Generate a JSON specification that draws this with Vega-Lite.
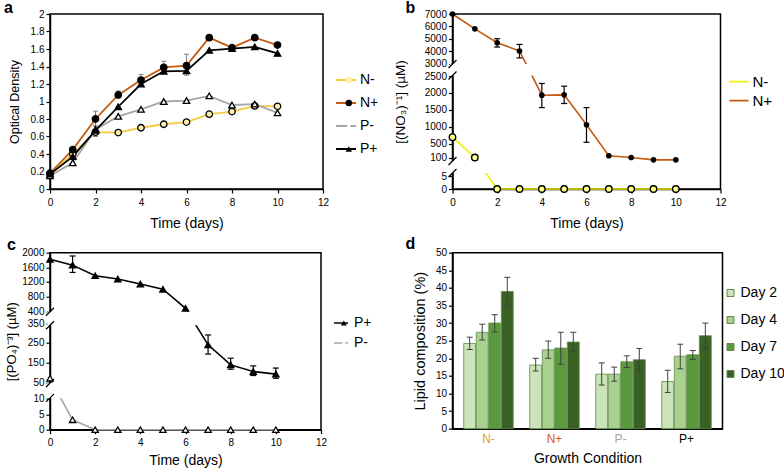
{
  "$schema": "https://vega.github.io/schema/vega-lite/v6.json",
  "background": "white",
  "padding": {"left": 3, "top": -1, "right": 0, "bottom": 0},
  "config": {
    "font": "Liberation Sans",
    "view": {"stroke": "#000", "strokeWidth": 1.5},
    "axis": {"grid": false, "domainColor": "#000", "domainWidth": 1.5, "tickColor": "#000", "tickWidth": 1.2, "tickSize": 4, "tickCount": 60, "labelColor": "#000", "labelFontSize": 10, "labelPadding": 2, "titleColor": "#000", "titleFontWeight": "normal", "labelOverlap": false, "labelFlush": false},
    "legend": {"labelColor": "#000", "padding": 0, "labelFont": "Liberation Sans"},
    "title": {"anchor": "start", "frame": "group", "fontSize": 16, "fontWeight": "bold", "color": "#000"}
  },
  "datasets": {
    "od": [
      {"day": 0, "series": "N-", "od": 0.17}, {"day": 1, "series": "N-", "od": 0.40}, {"day": 2, "series": "N-", "od": 0.65}, {"day": 3, "series": "N-", "od": 0.645}, {"day": 4, "series": "N-", "od": 0.70}, {"day": 5, "series": "N-", "od": 0.74}, {"day": 6, "series": "N-", "od": 0.765}, {"day": 7, "series": "N-", "od": 0.855}, {"day": 8, "series": "N-", "od": 0.885}, {"day": 9, "series": "N-", "od": 0.95}, {"day": 10, "series": "N-", "od": 0.945},
      {"day": 0, "series": "N+", "od": 0.18}, {"day": 1, "series": "N+", "od": 0.45}, {"day": 2, "series": "N+", "od": 0.80}, {"day": 3, "series": "N+", "od": 1.075}, {"day": 4, "series": "N+", "od": 1.245}, {"day": 5, "series": "N+", "od": 1.39}, {"day": 6, "series": "N+", "od": 1.41}, {"day": 7, "series": "N+", "od": 1.73}, {"day": 8, "series": "N+", "od": 1.615}, {"day": 9, "series": "N+", "od": 1.73}, {"day": 10, "series": "N+", "od": 1.645},
      {"day": 0, "series": "P-", "od": 0.15}, {"day": 1, "series": "P-", "od": 0.30}, {"day": 2, "series": "P-", "od": 0.68}, {"day": 3, "series": "P-", "od": 0.83}, {"day": 4, "series": "P-", "od": 0.91}, {"day": 5, "series": "P-", "od": 1.0}, {"day": 6, "series": "P-", "od": 1.01}, {"day": 7, "series": "P-", "od": 1.065}, {"day": 8, "series": "P-", "od": 0.96}, {"day": 9, "series": "P-", "od": 0.97}, {"day": 10, "series": "P-", "od": 0.87},
      {"day": 0, "series": "P+", "od": 0.17}, {"day": 1, "series": "P+", "od": 0.37}, {"day": 2, "series": "P+", "od": 0.67}, {"day": 3, "series": "P+", "od": 0.94}, {"day": 4, "series": "P+", "od": 1.2}, {"day": 5, "series": "P+", "od": 1.345}, {"day": 6, "series": "P+", "od": 1.35}, {"day": 7, "series": "P+", "od": 1.585}, {"day": 8, "series": "P+", "od": 1.605}, {"day": 9, "series": "P+", "od": 1.625}, {"day": 10, "series": "P+", "od": 1.55}
    ],
    "od_err": [
      {"day": 2, "series": "N+", "lo": 0.72, "hi": 0.89}, {"day": 3, "series": "N+", "lo": 1.04, "hi": 1.12}, {"day": 4, "series": "N+", "lo": 1.21, "hi": 1.31}, {"day": 5, "series": "N+", "lo": 1.35, "hi": 1.46}, {"day": 6, "series": "N+", "lo": 1.30, "hi": 1.54}, {"day": 2, "series": "P+", "lo": 0.60, "hi": 0.72}
    ],
    "no3": [
      {"day": 0, "series": "N-", "c": 700}, {"day": 1, "series": "N-", "c": 100}, {"day": 2, "series": "N-", "c": 0}, {"day": 3, "series": "N-", "c": 0}, {"day": 4, "series": "N-", "c": 0}, {"day": 5, "series": "N-", "c": 0}, {"day": 6, "series": "N-", "c": 0}, {"day": 7, "series": "N-", "c": 0}, {"day": 8, "series": "N-", "c": 0}, {"day": 9, "series": "N-", "c": 0}, {"day": 10, "series": "N-", "c": 0},
      {"day": 0, "series": "N+", "c": 7000}, {"day": 1, "series": "N+", "c": 5800}, {"day": 2, "series": "N+", "c": 4680}, {"day": 3, "series": "N+", "c": 4010}, {"day": 4, "series": "N+", "c": 1935}, {"day": 5, "series": "N+", "c": 1945}, {"day": 6, "series": "N+", "c": 1065}, {"day": 7, "series": "N+", "c": 150}, {"day": 8, "series": "N+", "c": 100}, {"day": 9, "series": "N+", "c": 88}, {"day": 10, "series": "N+", "c": 88}
    ],
    "no3_err": [
      {"day": 2, "lo": 4330, "hi": 5000}, {"day": 3, "lo": 3450, "hi": 4540}, {"day": 4, "lo": 1570, "hi": 2280}, {"day": 5, "lo": 1690, "hi": 2200}, {"day": 6, "lo": 548, "hi": 1570}
    ],
    "no3_breaks": [{"lo": 2520, "hi": 2980}, {"lo": 20, "hi": 82}],
    "po4": [
      {"day": 0, "series": "P+", "c": 1820}, {"day": 1, "series": "P+", "c": 1660}, {"day": 2, "series": "P+", "c": 1370}, {"day": 3, "series": "P+", "c": 1280}, {"day": 4, "series": "P+", "c": 1143}, {"day": 5, "series": "P+", "c": 1000}, {"day": 6, "series": "P+", "c": 480}, {"day": 7, "series": "P+", "c": 240}, {"day": 8, "series": "P+", "c": 138}, {"day": 9, "series": "P+", "c": 104}, {"day": 10, "series": "P+", "c": 91},
      {"day": 0, "series": "P-", "c": 70}, {"day": 1, "series": "P-", "c": 3.2}, {"day": 2, "series": "P-", "c": 0}, {"day": 3, "series": "P-", "c": 0}, {"day": 4, "series": "P-", "c": 0}, {"day": 5, "series": "P-", "c": 0}, {"day": 6, "series": "P-", "c": 0}, {"day": 7, "series": "P-", "c": 0}, {"day": 8, "series": "P-", "c": 0}, {"day": 9, "series": "P-", "c": 0}, {"day": 10, "series": "P-", "c": 0}
    ],
    "po4_err": [
      {"day": 1, "lo": 1460, "hi": 1910}, {"day": 7, "lo": 193, "hi": 290}, {"day": 8, "lo": 116, "hi": 172}, {"day": 9, "lo": 84, "hi": 133}, {"day": 10, "lo": 70, "hi": 122}
    ],
    "po4_breaks": [{"lo": 340, "hi": 398}, {"lo": 12, "hi": 48}],
    "lipid": [
      {"cond": "N-", "day": "Day 2", "v": 24.2, "lo": 22.5, "hi": 26}, {"cond": "N-", "day": "Day 4", "v": 27.4, "lo": 25.2, "hi": 29.7}, {"cond": "N-", "day": "Day 7", "v": 30, "lo": 27.5, "hi": 32.4}, {"cond": "N-", "day": "Day 10", "v": 39, "lo": 35, "hi": 43},
      {"cond": "N+", "day": "Day 2", "v": 18.1, "lo": 16.4, "hi": 20}, {"cond": "N+", "day": "Day 4", "v": 22.4, "lo": 20, "hi": 24.9}, {"cond": "N+", "day": "Day 7", "v": 22.9, "lo": 18.3, "hi": 27.4}, {"cond": "N+", "day": "Day 10", "v": 24.6, "lo": 22, "hi": 27.4},
      {"cond": "P-", "day": "Day 2", "v": 15.5, "lo": 12.4, "hi": 18.7}, {"cond": "P-", "day": "Day 4", "v": 15.5, "lo": 13.5, "hi": 17.5}, {"cond": "P-", "day": "Day 7", "v": 19, "lo": 17.4, "hi": 20.7}, {"cond": "P-", "day": "Day 10", "v": 19.6, "lo": 16.4, "hi": 22.8},
      {"cond": "P+", "day": "Day 2", "v": 13.4, "lo": 10.3, "hi": 16.6}, {"cond": "P+", "day": "Day 4", "v": 20.6, "lo": 17, "hi": 24}, {"cond": "P+", "day": "Day 7", "v": 21, "lo": 19.7, "hi": 22.2}, {"cond": "P+", "day": "Day 10", "v": 26.4, "lo": 22.8, "hi": 30}
    ]
  },
  "columns": 2,
  "align": "none",
  "bounds": "flush",
  "spacing": {"row": 63.7, "column": 129.5},
  "resolve": {
    "scale": {"fill": "independent", "stroke": "independent", "shape": "independent", "size": "independent", "color": "independent"},
    "legend": {"fill": "independent", "stroke": "independent", "shape": "independent", "size": "independent", "color": "independent"}
  },
  "concat": [
    {
      "width": 273, "height": 175,
      "title": {"text": "a", "dx": -46, "offset": -7},
      "layer": [
        {
          "data": {"name": "od_err"},
          "mark": {"type": "rule", "color": "#7f7f7f", "strokeWidth": 1},
          "encoding": {
            "x": {"field": "day", "type": "quantitative", "title": "Time (days)", "scale": {"domain": [0, 12], "nice": false}, "axis": {"values": [0, 2, 4, 6, 8, 10, 12], "format": "d", "tickCount": 60, "labelOverlap": false, "titleFontSize": 14, "titlePadding": 9, "labelPadding": 4}},
            "y": {"field": "lo", "type": "quantitative", "title": "Optical Density", "scale": {"domain": [0, 2], "nice": false}, "axis": {"values": [0, 0.2, 0.4, 0.6, 0.8, 1, 1.2, 1.4, 1.6, 1.8, 2], "tickCount": 60, "labelOverlap": false, "format": "~g", "titleFontSize": 12.5, "titlePadding": 9}},
            "y2": {"field": "hi"}
          }
        },
        {
          "data": {"name": "od_err"},
          "mark": {"type": "tick", "orient": "horizontal", "color": "#7f7f7f", "size": 5, "thickness": 1, "opacity": 1},
          "encoding": {"x": {"field": "day", "type": "quantitative", "title": "Time (days)"}, "y": {"field": "hi", "type": "quantitative", "title": "Optical Density"}}
        },
        {
          "data": {"name": "od_err"},
          "mark": {"type": "tick", "orient": "horizontal", "color": "#7f7f7f", "size": 5, "thickness": 1, "opacity": 1},
          "encoding": {"x": {"field": "day", "type": "quantitative", "title": "Time (days)"}, "y": {"field": "lo", "type": "quantitative", "title": "Optical Density"}}
        },
        {
          "data": {"name": "od"},
          "mark": {"type": "line", "strokeWidth": 1.8},
          "encoding": {
            "x": {"field": "day", "type": "quantitative", "title": "Time (days)"},
            "y": {"field": "od", "type": "quantitative", "title": "Optical Density"},
            "stroke": {"field": "series", "type": "nominal", "scale": {"domain": ["N-", "N+", "P-", "P+"], "range": ["#f5cb45", "#c55a11", "#a6a6a6", "#000000"]},
              "legend": {"orient": "none", "legendX": 285, "legendY": 54.5, "title": null, "symbolType": "stroke", "symbolSize": 400, "symbolStrokeWidth": 1.8, "labelFontSize": 14, "labelOffset": 3, "clipHeight": 23, "rowPadding": 0}}
          }
        },
        {
          "data": {"name": "od"},
          "mark": {"type": "point", "filled": true, "stroke": "#000", "strokeWidth": 1.3, "size": 42, "opacity": 1},
          "encoding": {
            "x": {"field": "day", "type": "quantitative", "title": "Time (days)"},
            "y": {"field": "od", "type": "quantitative", "title": "Optical Density"},
            "shape": {"field": "series", "type": "nominal", "scale": {"domain": ["N+", "N-", "P+", "P-"], "range": ["circle", "circle", "triangle-up", "triangle-up"]},
              "legend": {"values": ["N-", "N+", "P-", "P+"], "orient": "none", "legendX": 291.8, "legendY": 54.5, "title": null, "symbolSize": 42, "symbolStrokeColor": "#000", "symbolStrokeWidth": 1.3, "labelFontSize": 14, "labelOpacity": 0, "clipHeight": 23, "rowPadding": 0}},
            "fill": {"field": "series", "type": "nominal", "scale": {"domain": ["N+", "N-", "P+", "P-"], "range": ["#000000", "#fff1b0", "#000000", "#ffffff"]},
              "legend": {"values": ["N-", "N+", "P-", "P+"], "orient": "none", "legendX": 291.8, "legendY": 54.5, "title": null, "symbolSize": 42, "symbolStrokeColor": "#000", "symbolStrokeWidth": 1.3, "labelFontSize": 14, "labelOpacity": 0, "clipHeight": 23, "rowPadding": 0}}
          }
        }
      ]
    },
    {
      "width": 268, "height": 175,
      "title": {"text": "b", "dx": -47, "offset": -7},
      "layer": [
        {
          "data": {"name": "no3_err"},
          "mark": {"type": "rule", "color": "#000", "strokeWidth": 1.2},
          "encoding": {
            "x": {"field": "day", "type": "quantitative", "title": "Time (days)", "scale": {"domain": [0, 12], "nice": false}, "axis": {"values": [0, 2, 4, 6, 8, 10, 12], "format": "d", "tickCount": 60, "labelOverlap": false, "titleFontSize": 14, "titlePadding": 9, "labelPadding": 4}},
            "y": {"field": "lo", "type": "quantitative", "title": "[(NO₃)⁻¹] (µM)", "scale": {"domain": [0, 5, 100, 2500, 3000, 7000], "range": [175, 162, 143.5, 62, 49.5, 0], "nice": false, "zero": false}, "axis": {"values": [0, 5, 100, 500, 1000, 1500, 2000, 2500, 3000, 4000, 5000, 6000, 7000], "tickCount": 60, "labelOverlap": false, "format": "d", "titleFontSize": 13.5, "titlePadding": 17}},
            "y2": {"field": "hi"}
          }
        },
        {
          "data": {"name": "no3_err"},
          "mark": {"type": "tick", "orient": "horizontal", "color": "#000", "size": 6, "thickness": 1.2, "opacity": 1},
          "encoding": {"x": {"field": "day", "type": "quantitative", "title": "Time (days)"}, "y": {"field": "hi", "type": "quantitative", "title": "[(NO₃)⁻¹] (µM)"}}
        },
        {
          "data": {"name": "no3_err"},
          "mark": {"type": "tick", "orient": "horizontal", "color": "#000", "size": 6, "thickness": 1.2, "opacity": 1},
          "encoding": {"x": {"field": "day", "type": "quantitative", "title": "Time (days)"}, "y": {"field": "lo", "type": "quantitative", "title": "[(NO₃)⁻¹] (µM)"}}
        },
        {
          "data": {"name": "no3"},
          "mark": {"type": "line", "strokeWidth": 1.6},
          "encoding": {
            "x": {"field": "day", "type": "quantitative", "title": "Time (days)"},
            "y": {"field": "c", "type": "quantitative", "title": "[(NO₃)⁻¹] (µM)"},
            "stroke": {"field": "series", "type": "nominal", "scale": {"domain": ["N-", "N+"], "range": ["#f0f000", "#c55a11"]},
              "legend": {"orient": "none", "legendX": 276, "legendY": 58.5, "title": null, "symbolType": "stroke", "symbolSize": 361, "symbolStrokeWidth": 1.6, "labelFontSize": 15, "labelOffset": 3, "clipHeight": 18.3, "rowPadding": 0}}
          }
        },
        {
          "data": {"name": "no3_breaks"},
          "mark": {"type": "rect", "fill": "white"},
          "encoding": {
            "x": {"datum": -0.12, "type": "quantitative"},
            "x2": {"datum": 11.88},
            "y": {"field": "hi", "type": "quantitative", "title": "[(NO₃)⁻¹] (µM)"},
            "y2": {"field": "lo"}
          }
        },
        {
          "data": {"name": "no3_breaks"},
          "mark": {"type": "rule", "color": "#000", "strokeWidth": 1.3, "xOffset": -4, "x2Offset": 4, "yOffset": 4, "y2Offset": -4},
          "encoding": {"x": {"datum": 0, "type": "quantitative"}, "x2": {"datum": 0}, "y": {"field": "hi", "type": "quantitative", "title": "[(NO₃)⁻¹] (µM)"}, "y2": {"field": "hi"}}
        },
        {
          "data": {"name": "no3_breaks"},
          "mark": {"type": "rule", "color": "#000", "strokeWidth": 1.3, "xOffset": -4, "x2Offset": 4, "yOffset": 4, "y2Offset": -4},
          "encoding": {"x": {"datum": 0, "type": "quantitative"}, "x2": {"datum": 0}, "y": {"field": "lo", "type": "quantitative", "title": "[(NO₃)⁻¹] (µM)"}, "y2": {"field": "lo"}}
        },
        {
          "data": {"name": "no3"},
          "mark": {"type": "point", "filled": true, "stroke": "#000", "strokeWidth": 1.4, "opacity": 1},
          "encoding": {
            "x": {"field": "day", "type": "quantitative", "title": "Time (days)"},
            "y": {"field": "c", "type": "quantitative", "title": "[(NO₃)⁻¹] (µM)"},
            "size": {"field": "series", "type": "nominal", "scale": {"domain": ["N+", "N-"], "range": [18, 42]}, "legend": null},
            "shape": {"field": "series", "type": "nominal", "scale": {"domain": ["N+", "N-"], "range": ["circle", "circle"]},
              "legend": {"values": ["N-", "N+"], "orient": "none", "legendX": 282.3, "legendY": 58.5, "title": null, "symbolSize": 36, "symbolStrokeColor": "#000", "symbolStrokeWidth": 1.4, "labelFontSize": 15, "labelOpacity": 0, "clipHeight": 18.3, "rowPadding": 0}},
            "fill": {"field": "series", "type": "nominal", "scale": {"domain": ["N+", "N-"], "range": ["#000000", "#ffff8c"]},
              "legend": {"values": ["N-", "N+"], "orient": "none", "legendX": 282.3, "legendY": 58.5, "title": null, "symbolSize": 36, "symbolStrokeColor": "#000", "symbolStrokeWidth": 1.4, "labelFontSize": 15, "labelOpacity": 0, "clipHeight": 18.3, "rowPadding": 0}}
          }
        }
      ]
    },
    {
      "width": 271, "height": 177,
      "title": {"text": "c", "dx": -43, "offset": -5},
      "layer": [
        {
          "data": {"name": "po4_err"},
          "mark": {"type": "rule", "color": "#000", "strokeWidth": 1.2},
          "encoding": {
            "x": {"field": "day", "type": "quantitative", "title": "Time (days)", "scale": {"domain": [0, 12], "nice": false}, "axis": {"values": [0, 2, 4, 6, 8, 10, 12], "format": "d", "tickCount": 60, "labelOverlap": false, "titleFontSize": 14, "titlePadding": 6, "labelPadding": 4}},
            "y": {"field": "lo", "type": "quantitative", "title": "[(PO₄)⁻³] (µM)", "scale": {"domain": [0, 10, 50, 350, 400, 2000], "range": [177, 146, 129.5, 70.5, 58.5, 0], "nice": false, "zero": false}, "axis": {"values": [0, 5, 10, 50, 150, 250, 350, 400, 800, 1200, 1600, 2000], "tickCount": 60, "labelOverlap": false, "format": "d", "titleFontSize": 13, "titlePadding": 3}},
            "y2": {"field": "hi"}
          }
        },
        {
          "data": {"name": "po4_err"},
          "mark": {"type": "tick", "orient": "horizontal", "color": "#000", "size": 6, "thickness": 1.2, "opacity": 1},
          "encoding": {"x": {"field": "day", "type": "quantitative", "title": "Time (days)"}, "y": {"field": "hi", "type": "quantitative", "title": "[(PO₄)⁻³] (µM)"}}
        },
        {
          "data": {"name": "po4_err"},
          "mark": {"type": "tick", "orient": "horizontal", "color": "#000", "size": 6, "thickness": 1.2, "opacity": 1},
          "encoding": {"x": {"field": "day", "type": "quantitative", "title": "Time (days)"}, "y": {"field": "lo", "type": "quantitative", "title": "[(PO₄)⁻³] (µM)"}}
        },
        {
          "data": {"name": "po4"},
          "mark": {"type": "line", "strokeWidth": 1.6},
          "encoding": {
            "x": {"field": "day", "type": "quantitative", "title": "Time (days)"},
            "y": {"field": "c", "type": "quantitative", "title": "[(PO₄)⁻³] (µM)"},
            "stroke": {"field": "series", "type": "nominal", "scale": {"domain": ["P+", "P-"], "range": ["#000000", "#a6a6a6"]},
              "legend": {"orient": "none", "legendX": 283, "legendY": 60.3, "title": null, "symbolType": "stroke", "symbolSize": 196, "symbolStrokeWidth": 1.6, "labelFontSize": 14, "labelOffset": 5, "clipHeight": 20, "rowPadding": 0}}
          }
        },
        {
          "data": {"name": "po4_breaks"},
          "mark": {"type": "rect", "fill": "white"},
          "encoding": {
            "x": {"datum": -0.12, "type": "quantitative"},
            "x2": {"datum": 11.88},
            "y": {"field": "hi", "type": "quantitative", "title": "[(PO₄)⁻³] (µM)"},
            "y2": {"field": "lo"}
          }
        },
        {
          "data": {"name": "po4_breaks"},
          "mark": {"type": "rule", "color": "#000", "strokeWidth": 1.3, "xOffset": -4, "x2Offset": 4, "yOffset": 4, "y2Offset": -4},
          "encoding": {"x": {"datum": 0, "type": "quantitative"}, "x2": {"datum": 0}, "y": {"field": "hi", "type": "quantitative", "title": "[(PO₄)⁻³] (µM)"}, "y2": {"field": "hi"}}
        },
        {
          "data": {"name": "po4_breaks"},
          "mark": {"type": "rule", "color": "#000", "strokeWidth": 1.3, "xOffset": -4, "x2Offset": 4, "yOffset": 4, "y2Offset": -4},
          "encoding": {"x": {"datum": 0, "type": "quantitative"}, "x2": {"datum": 0}, "y": {"field": "lo", "type": "quantitative", "title": "[(PO₄)⁻³] (µM)"}, "y2": {"field": "lo"}}
        },
        {
          "data": {"name": "po4"},
          "mark": {"type": "point", "filled": true, "stroke": "#000", "strokeWidth": 1.3, "size": 40, "opacity": 1},
          "encoding": {
            "x": {"field": "day", "type": "quantitative", "title": "Time (days)"},
            "y": {"field": "c", "type": "quantitative", "title": "[(PO₄)⁻³] (µM)"},
            "shape": {"field": "series", "type": "nominal", "scale": {"domain": ["P-", "P+"], "range": ["triangle-up", "triangle-up"]},
              "legend": {"values": ["P+", "P-"], "orient": "none", "legendX": 286.8, "legendY": 60.3, "title": null, "symbolSize": 36, "symbolStrokeColor": "#000", "symbolStrokeWidth": 1.3, "labelFontSize": 14, "labelOpacity": 0, "clipHeight": 20, "rowPadding": 0}},
            "fill": {"field": "series", "type": "nominal", "scale": {"domain": ["P-", "P+"], "range": ["#ffffff", "#000000"]},
              "legend": {"values": ["P+", "P-"], "orient": "none", "legendX": 286.8, "legendY": 60.3, "title": null, "symbolSize": 36, "symbolStrokeColor": "#000", "symbolStrokeWidth": 1.3, "labelFontSize": 14, "labelOpacity": 0, "clipHeight": 20, "rowPadding": 0}}
          }
        }
      ]
    },
    {
      "width": 270, "height": 176,
      "title": {"text": "d", "dx": -47, "offset": -4.5},
      "data": {"name": "lipid"},
      "encoding": {
        "x": {"field": "cond", "type": "nominal", "title": "Growth Condition", "scale": {"domain": ["N-", "N+", "P-", "P+"], "paddingInner": 0.25, "paddingOuter": 0.17},
          "axis": {"labelAngle": 0, "ticks": false, "labelPadding": 5, "labelFontSize": 12, "titleFontSize": 14, "titlePadding": 7,
            "labelColor": {"expr": "datum.label == 'N-' ? '#e3a21a' : datum.label == 'N+' ? '#d0601a' : datum.label == 'P-' ? '#a6a6a6' : '#000000'"}}},
        "xOffset": {"field": "day", "type": "nominal", "scale": {"domain": ["Day 2", "Day 4", "Day 7", "Day 10"], "paddingInner": 0.05}}
      },
      "layer": [
        {
          "mark": {"type": "bar", "stroke": "#5f8a4a", "strokeWidth": 0.8, "opacity": 1},
          "encoding": {
            "y": {"field": "v", "type": "quantitative", "stack": null, "title": "Lipid composition (%)", "scale": {"domain": [0, 50], "nice": false},
              "axis": {"values": [0, 5, 10, 15, 20, 25, 30, 35, 40, 45, 50], "tickCount": 60, "labelOverlap": false, "titleFontSize": 14.5, "titlePadding": 8}},
            "fill": {"field": "day", "type": "nominal", "scale": {"domain": ["Day 2", "Day 4", "Day 7", "Day 10"], "range": ["#cbe4ba", "#a9d18e", "#5b9a3c", "#3a6124"]},
              "legend": {"orient": "none", "legendX": 271, "legendY": 26.8, "title": null, "symbolType": "square", "symbolSize": 49, "symbolStrokeColor": "#5f8a4a", "symbolStrokeWidth": 1, "labelFontSize": 14, "labelOffset": 3, "clipHeight": 27, "rowPadding": 0}}
          }
        },
        {
          "mark": {"type": "rule", "color": "#404040", "strokeWidth": 1},
          "encoding": {"y": {"field": "lo", "type": "quantitative", "title": "Lipid composition (%)"}, "y2": {"field": "hi"}}
        },
        {
          "mark": {"type": "tick", "orient": "horizontal", "color": "#404040", "size": 6, "thickness": 1, "opacity": 1},
          "encoding": {"y": {"field": "hi", "type": "quantitative", "title": "Lipid composition (%)"}}
        },
        {
          "mark": {"type": "tick", "orient": "horizontal", "color": "#404040", "size": 6, "thickness": 1, "opacity": 1},
          "encoding": {"y": {"field": "lo", "type": "quantitative", "title": "Lipid composition (%)"}}
        }
      ]
    }
  ]
}
